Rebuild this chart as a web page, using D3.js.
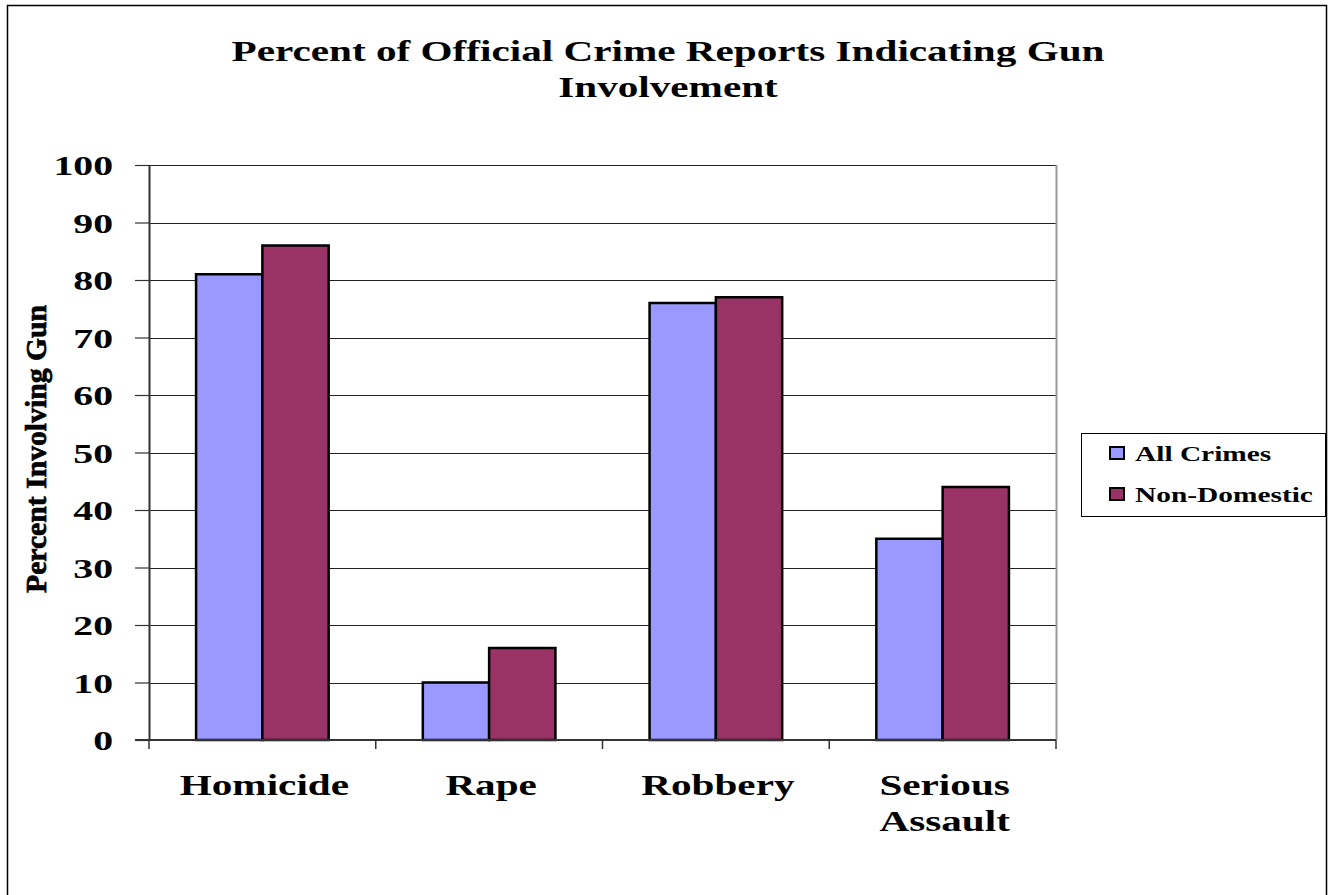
<!DOCTYPE html>
<html>
<head>
<meta charset="utf-8">
<script src="https://cdn.jsdelivr.net/npm/d3@7"></script>
<style>
  html, body { margin: 0; padding: 0; background: #fff; }
  svg { display: block; }
  text { font-family: "Liberation Serif", "Times New Roman", serif; font-weight: bold; fill: #000; }
</style>
</head>
<body>
<script>
// Chart data
const categories = ["Homicide", "Rape", "Robbery", "Serious Assault"];
const seriesNames = ["All Crimes", "Non-Domestic"];
const allCrimes = [81, 10, 76, 35];
const nonDomestic = [86, 16, 77, 44];
const yTicks = [0, 10, 20, 30, 40, 50, 60, 70, 80, 90, 100];
const colors = ["#9999FF", "#993366"];

const W = 1333, H = 895;
const SX = 1.4; // horizontal stretch applied to all wide-set labels
const svg = d3.select("body").append("svg").attr("width", W).attr("height", H);

// place a text at (x,y) with a horizontal stretch around its anchor point
function stretchedText(parent, x, y, str, size, anchor, sx) {
  return parent.append("text")
    .attr("transform", `translate(${x},${y}) scale(${sx},1)`)
    .attr("text-anchor", anchor)
    .style("font-size", size + "px")
    .text(str);
}

// outer chart border
svg.append("rect").attr("x", 7.5).attr("y", 5.5).attr("width", 1319).attr("height", 900)
  .attr("fill", "#fff").attr("stroke", "#000").attr("stroke-width", 1.5);

const plot = { left: 149, right: 1056, top: 165, bottom: 740 };

const x = d3.scaleBand().domain(categories).range([plot.left, plot.right]).paddingInner(0).paddingOuter(0);
const inner = d3.scaleBand().domain(seriesNames).range([0, x.bandwidth()]).paddingInner(0).paddingOuter(0.71);
const y = d3.scaleLinear().domain([0, 100]).range([plot.bottom, plot.top]);

// gridlines
svg.append("g").selectAll("line").data(yTicks.filter(d => d > 0)).join("line")
  .attr("x1", plot.left).attr("x2", plot.right)
  .attr("y1", d => Math.round(y(d)) + 0.5).attr("y2", d => Math.round(y(d)) + 0.5)
  .attr("stroke", "#222").attr("stroke-width", 1.2);

// plot area right edge
svg.append("line").attr("x1", plot.right + 0.5).attr("x2", plot.right + 0.5)
  .attr("y1", plot.top).attr("y2", plot.bottom)
  .attr("stroke", "#999").attr("stroke-width", 2);

// bars
const rows = categories.map((c, i) => ({ cat: c, vals: [allCrimes[i], nonDomestic[i]] }));
const groups = svg.append("g").selectAll("g").data(rows).join("g")
  .attr("transform", d => `translate(${x(d.cat)},0)`);
groups.selectAll("rect").data(d => d.vals.map((v, j) => ({ name: seriesNames[j], v, j }))).join("rect")
  .attr("x", d => inner(d.name))
  .attr("y", d => y(d.v))
  .attr("width", inner.bandwidth())
  .attr("height", d => y(0) - y(d.v))
  .attr("fill", d => colors[d.j])
  .attr("stroke", "#000").attr("stroke-width", 2.5);

// y axis
const yAxis = svg.append("g").attr("transform", `translate(${plot.left},0)`)
  .call(d3.axisLeft(y).tickValues(yTicks).tickSize(14).tickSizeOuter(0).tickFormat(""));
yAxis.select(".domain").attr("stroke", "#333").attr("stroke-width", 2);
yAxis.selectAll(".tick line").attr("stroke", "#333").attr("stroke-width", 1.2);
const yLab = svg.append("g");
yTicks.forEach(t => {
  stretchedText(yLab, 113, y(t) + 10, String(t), 28, "end", 1.42);
});

// x axis (baseline and category separators)
const xAxisG = svg.append("g").attr("transform", `translate(0,${plot.bottom})`);
xAxisG.append("line").attr("x1", plot.left - 14).attr("x2", plot.right)
  .attr("y1", 0).attr("y2", 0).attr("stroke", "#333").attr("stroke-width", 2);
const seps = categories.map(c => x(c)).concat([plot.right]);
xAxisG.selectAll("line.sep").data(seps).join("line").attr("class", "sep")
  .attr("x1", d => d).attr("x2", d => d).attr("y1", 0).attr("y2", 9)
  .attr("stroke", "#333").attr("stroke-width", 1.5);

// category labels (wrapped on spaces)
const catG = svg.append("g");
categories.forEach(c => {
  const cx = x(c) + x.bandwidth() / 2 + 2;
  c.split(" ").forEach((w, i) => {
    stretchedText(catG, cx, 795 + i * 36, w, 29, "middle", 1.42);
  });
});

// title
stretchedText(svg, 668, 61, "Percent of Official Crime Reports Indicating Gun", 29, "middle", 1.42);
stretchedText(svg, 668, 97, "Involvement", 29, "middle", 1.42);

// y axis title
svg.append("text")
  .attr("transform", "translate(46,449) rotate(-90)")
  .attr("text-anchor", "middle")
  .attr("textLength", 288).attr("lengthAdjust", "spacingAndGlyphs")
  .style("font-size", "30px")
  .style("stroke", "#000").style("stroke-width", 0.7)
  .text("Percent Involving Gun");

// legend
const lg = svg.append("g").attr("transform", "translate(1081,433)");
lg.append("rect").attr("x", 0.5).attr("y", 0.5).attr("width", 244).attr("height", 83)
  .attr("fill", "#fff").attr("stroke", "#000").attr("stroke-width", 1);
const items = lg.selectAll("g.item").data(seriesNames).join("g").attr("class", "item")
  .attr("transform", (d, i) => `translate(0,${20 + i * 41})`);
items.append("rect").attr("x", 29).attr("y", -6).attr("width", 14).attr("height", 12)
  .attr("fill", (d, i) => colors[i]).attr("stroke", "#000").attr("stroke-width", 2);
items.each(function(d) {
  stretchedText(d3.select(this), 54, 8, d, 21, "start", SX);
});
</script>
</body>
</html>
